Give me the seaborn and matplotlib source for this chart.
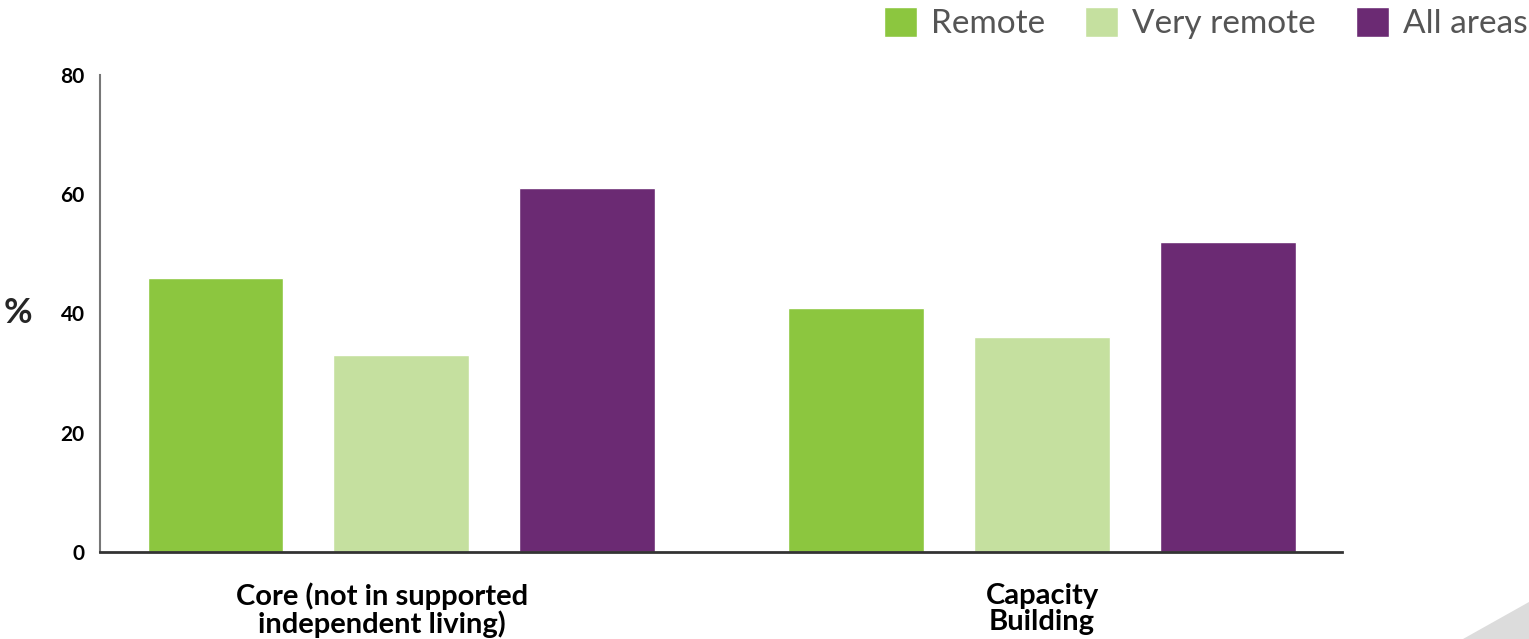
import matplotlib
matplotlib.use("Agg")
import matplotlib.pyplot as plt
import matplotlib.transforms as mtransforms
from matplotlib.patches import Polygon
import pandas as pd
import seaborn as sns

# Data
categories = ["Core (not in supported\nindependent living)", "Capacity\nBuilding"]
areas = ["Remote", "Very remote", "All areas"]
remote = [46, 41]
very_remote = [33, 36]
all_areas = [61, 52]
colors = ["#8cc63f", "#c5e09f", "#6b2a73"]

rows = []
for i, cat in enumerate(categories):
    for area, vals in zip(areas, [remote, very_remote, all_areas]):
        rows.append({"category": cat, "area": area, "value": vals[i]})
df = pd.DataFrame(rows)

sns.set_style("white")
plt.rcParams["font.family"] = ["Lato", "DejaVu Sans"]

fig = plt.figure(figsize=(15.29, 6.39), dpi=100)
ax = fig.add_axes([0.0654, 0.1362, 0.8123, 0.7464])

sns.barplot(data=df, x="category", y="value", hue="area", palette=colors,
            width=0.87, gap=0.27, saturation=1, ax=ax, legend=True)

ax.set_ylim(0, 80)
ax.set_xlim(-0.47, 1.468)
ax.set_yticks([0, 20, 40, 60, 80])
ax.tick_params(axis="y", length=0, pad=11, labelsize=15)
ax.tick_params(axis="x", length=0, pad=22, labelsize=21)
for lab in ax.get_yticklabels() + ax.get_xticklabels():
    lab.set_fontweight("bold")
    lab.set_color("black")
for lab in ax.get_xticklabels():
    lab.set_linespacing(1.0)
# first category label sits a little left of its bar group
first = ax.get_xticklabels()[0]
first.set_transform(first.get_transform() +
                    mtransforms.ScaledTranslation(-0.19, 0, fig.dpi_scale_trans))

ax.set_xlabel("")
ax.set_ylabel("%", rotation=0, fontsize=25, fontweight="bold", va="center")
ax.yaxis.set_label_coords(-0.066, 0.5)

sns.despine(ax=ax, top=True, right=True)
ax.spines["left"].set_color("#777777")
ax.spines["left"].set_linewidth(1.5)
ax.spines["bottom"].set_color("#333333")
ax.spines["bottom"].set_linewidth(2)

handles, labels = ax.get_legend_handles_labels()
ax.get_legend().remove()
fig.legend(handles, labels, loc="upper right", bbox_to_anchor=(1.019, 1.036), ncol=3,
           frameon=False, fontsize=24, handlelength=1.0, handleheight=1.0,
           handletextpad=0.42, columnspacing=1.2, labelcolor="#555555")

# decorative corner triangle
fig.patches.append(Polygon([[0.957, 0.0], [1.0, 0.0], [1.0, 0.058]], closed=True,
                           transform=fig.transFigure, facecolor="#dcdcdc",
                           edgecolor="none", zorder=0))

fig.savefig("out.png", dpi=100)
